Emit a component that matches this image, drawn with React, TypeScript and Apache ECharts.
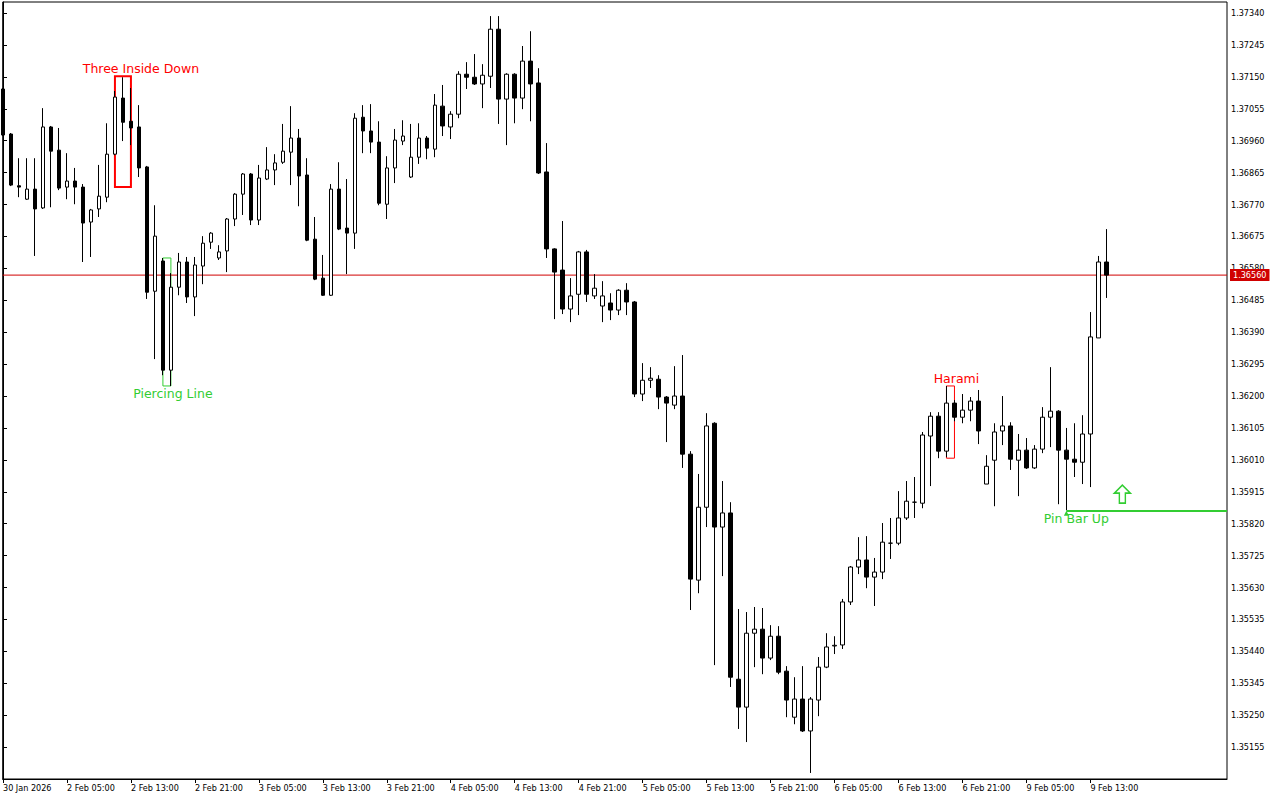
import React, { useEffect, useRef } from "react";
import * as echarts from "echarts";

// ---- Time axis (hourly bars, one tick every 8 bars) ----
const timeLabels = [
  "30 Jan 2026", "2 Feb 05:00", "2 Feb 13:00", "2 Feb 21:00", "3 Feb 05:00", "3 Feb 13:00",
  "3 Feb 21:00", "4 Feb 05:00", "4 Feb 13:00", "4 Feb 21:00", "5 Feb 05:00", "5 Feb 13:00",
  "5 Feb 21:00", "6 Feb 05:00", "6 Feb 13:00", "6 Feb 21:00", "9 Feb 05:00", "9 Feb 13:00",
];
const timeLabelIndex = [0, 8, 16, 24, 32, 40, 48, 56, 64, 72, 80, 88, 96, 104, 112, 120, 128, 136];

// ---- Price axis ticks ----
const priceTicks = [
  1.35155, 1.3525, 1.35345, 1.3544, 1.35535, 1.3563, 1.35725, 1.3582, 1.35915, 1.3601,
  1.36105, 1.362, 1.36295, 1.3639, 1.36485, 1.3658, 1.36675, 1.3677, 1.36865, 1.3696,
  1.37055, 1.3715, 1.37245, 1.3734,
];

// ---- OHLC (bar 0 = 30 Jan 21:00 ... bar 138 = 9 Feb 15:00) ----
const opens = [
  1.37114, 1.3698, 1.36826, 1.36786, 1.36816, 1.3676, 1.37001, 1.36932, 1.36822, 1.3684,
  1.36822, 1.36718, 1.36757, 1.36792, 1.3692, 1.37087, 1.37018, 1.37001, 1.36882, 1.36512,
  1.36602, 1.36277, 1.36524, 1.36599, 1.36495, 1.36587, 1.36658, 1.36611, 1.36632, 1.36727,
  1.36801, 1.36861, 1.36724, 1.36846, 1.36873, 1.36896, 1.36926, 1.36968, 1.36858, 1.36667,
  1.36551, 1.365, 1.36816, 1.367, 1.36685, 1.3703, 1.36989, 1.36956, 1.36771, 1.36879,
  1.36959, 1.36852, 1.36911, 1.36968, 1.36935, 1.37063, 1.37001, 1.37039, 1.37158, 1.37149,
  1.37129, 1.37152, 1.37292, 1.37084, 1.37158, 1.37087, 1.37197, 1.37132, 1.36867, 1.36638,
  1.36575, 1.36459, 1.36503, 1.36629, 1.36498, 1.36468, 1.36477, 1.36456, 1.36515, 1.3648,
  1.36206, 1.36247, 1.3625, 1.36197, 1.36173, 1.362, 1.36027, 1.35652, 1.35869, 1.36119,
  1.3581, 1.35852, 1.35357, 1.35274, 1.35494, 1.35506, 1.3542, 1.35485, 1.35381, 1.35244,
  1.35298, 1.35203, 1.35295, 1.35393, 1.35456, 1.35459, 1.35587, 1.35691, 1.35712, 1.35661,
  1.35676, 1.35762, 1.35762, 1.35837, 1.35884, 1.35881, 1.36081, 1.3614, 1.36036, 1.36179,
  1.36137, 1.36158, 1.36185, 1.35938, 1.36009, 1.36096, 1.36111, 1.36009, 1.36039, 1.35986,
  1.36042, 1.36137, 1.36155, 1.36039, 1.36012, 1.36003, 1.36087, 1.36373, 1.36599,
];
const closes = [
  1.36977, 1.36828, 1.36822, 1.36816, 1.36757, 1.37001, 1.36929, 1.36819, 1.3684, 1.36822,
  1.36715, 1.36754, 1.36795, 1.3692, 1.3709, 1.37015, 1.36998, 1.36879, 1.36509, 1.36676,
  1.36277, 1.36524, 1.36599, 1.36495, 1.3659, 1.36655, 1.36685, 1.36629, 1.36727, 1.36801,
  1.36861, 1.36724, 1.36849, 1.36873, 1.36894, 1.36929, 1.36968, 1.36855, 1.36664, 1.36548,
  1.365, 1.36816, 1.36697, 1.36685, 1.37027, 1.36989, 1.36956, 1.36774, 1.36879, 1.36962,
  1.36974, 1.36911, 1.36968, 1.36938, 1.37066, 1.37004, 1.37039, 1.37158, 1.37149, 1.37129,
  1.37155, 1.37292, 1.37084, 1.37158, 1.37087, 1.37197, 1.37129, 1.36864, 1.36638, 1.36569,
  1.36459, 1.36498, 1.36629, 1.36503, 1.36521, 1.36498, 1.36456, 1.36515, 1.3648, 1.36206,
  1.36247, 1.36253, 1.36197, 1.36179, 1.362, 1.36027, 1.35655, 1.35869, 1.36111, 1.3581,
  1.35852, 1.35363, 1.35274, 1.35494, 1.35506, 1.3542, 1.35485, 1.35378, 1.35295, 1.35298,
  1.35203, 1.35298, 1.35393, 1.35453, 1.35458, 1.35587, 1.35691, 1.35712, 1.35661, 1.35676,
  1.35765, 1.35762, 1.35837, 1.35887, 1.35884, 1.36084, 1.3614, 1.36036, 1.36179, 1.36137,
  1.36158, 1.36185, 1.36096, 1.35991, 1.36093, 1.36111, 1.36012, 1.36039, 1.35986, 1.36042,
  1.36137, 1.36155, 1.36039, 1.36012, 1.36003, 1.36087, 1.36376, 1.36599, 1.3656,
];
const lows = [
  1.36974, 1.36825, 1.36792, 1.36784, 1.36617, 1.36757, 1.36762, 1.36813, 1.36786, 1.36771,
  1.36599, 1.36614, 1.36733, 1.36777, 1.36917, 1.36959, 1.36947, 1.36852, 1.36489, 1.3631,
  1.36262, 1.3623, 1.365, 1.36477, 1.36438, 1.36533, 1.36638, 1.36605, 1.36569, 1.36706,
  1.36739, 1.36709, 1.36709, 1.36843, 1.36828, 1.36891, 1.36828, 1.36765, 1.36661, 1.36545,
  1.36498, 1.36498, 1.36694, 1.36563, 1.36638, 1.36923, 1.36923, 1.36768, 1.36727, 1.36834,
  1.36947, 1.36849, 1.36891, 1.36905, 1.36911, 1.36974, 1.36965, 1.37027, 1.37114, 1.37126,
  1.37057, 1.37117, 1.3701, 1.36947, 1.37012, 1.37054, 1.37018, 1.36861, 1.36611, 1.36429,
  1.36444, 1.3642, 1.36441, 1.3648, 1.36489, 1.3642, 1.36426, 1.36441, 1.36441, 1.36197,
  1.36185, 1.36224, 1.36161, 1.36063, 1.36161, 1.35986, 1.35563, 1.35613, 1.3581, 1.35399,
  1.35664, 1.35334, 1.35209, 1.3517, 1.35393, 1.35372, 1.35414, 1.35372, 1.35244, 1.35223,
  1.352, 1.35078, 1.35247, 1.3539, 1.35432, 1.35447, 1.35578, 1.3567, 1.35628, 1.35575,
  1.35655, 1.35715, 1.35756, 1.35831, 1.35837, 1.35866, 1.35932, 1.36015, 1.36018, 1.36125,
  1.36119, 1.36125, 1.36057, 1.35938, 1.35872, 1.36054, 1.3598, 1.35902, 1.35983, 1.35983,
  1.3603, 1.36048, 1.35878, 1.3586, 1.35959, 1.35938, 1.35929, 1.36373, 1.36492,
];
const highs = [
  1.37117, 1.36983, 1.36908, 1.36908, 1.36908, 1.37057, 1.37004, 1.36998, 1.36923, 1.36879,
  1.36831, 1.36757, 1.36888, 1.37012, 1.37108, 1.37149, 1.37117, 1.37066, 1.36885, 1.36768,
  1.36611, 1.36566, 1.36626, 1.36614, 1.36614, 1.36676, 1.36688, 1.36649, 1.3673, 1.36804,
  1.36864, 1.36864, 1.36888, 1.36941, 1.3692, 1.3701, 1.37063, 1.36995, 1.36908, 1.36733,
  1.3662, 1.36831, 1.36896, 1.36846, 1.37042, 1.37066, 1.37069, 1.37018, 1.36914, 1.36995,
  1.37021, 1.3701, 1.37012, 1.36974, 1.37099, 1.37126, 1.37048, 1.37167, 1.37194, 1.37218,
  1.37188, 1.37331, 1.37331, 1.37161, 1.37161, 1.37242, 1.37286, 1.37176, 1.36953, 1.3664,
  1.36721, 1.36551, 1.36632, 1.36635, 1.36563, 1.36542, 1.36506, 1.36518, 1.36536, 1.36483,
  1.36298, 1.36286, 1.36262, 1.362, 1.36289, 1.36322, 1.36036, 1.35968, 1.36149, 1.36122,
  1.35947, 1.35884, 1.35566, 1.35557, 1.35572, 1.35569, 1.35518, 1.35515, 1.35396, 1.35363,
  1.35396, 1.35304, 1.35423, 1.35494, 1.35485, 1.35596, 1.35694, 1.3578, 1.35783, 1.35718,
  1.35822, 1.35837, 1.35917, 1.35947, 1.35959, 1.36093, 1.36152, 1.36152, 1.3623, 1.36188,
  1.36206, 1.36197, 1.36218, 1.36024, 1.36119, 1.362, 1.36122, 1.36087, 1.36075, 1.36054,
  1.36167, 1.36286, 1.36158, 1.36105, 1.36119, 1.36143, 1.3645, 1.36617, 1.36697,
];

const currentPrice = 1.3656;

// ---- Candle pattern annotations ----
const patternNames = ["Three Inside Down", "Piercing Line", "Harami"];
const patternFrom = [14, 20, 118];
const patternTo = [16, 21, 119];
const patternTop = [1.37152, 1.36611, 1.3623];
const patternBottom = [1.36822, 1.3623, 1.36015];

const pinBarName = "Pin Bar Up";
const pinBarIndex = 133;
const pinBarLevel = 1.3586;
const signalArrowIndex = 140;
const signalArrowPrice = 1.35908;

// ---- axis extents ----
const xMin = -0.0375;
const xMax = 153.0875;
const yMin = 1.3506;
const yMax = 1.37373;

const RED = "#ff0000";
const GREEN = "#32cd32";
const PRICE_RED = "#d00000";
const AXIS_FONT = '"DejaVu Sans Condensed", "DejaVu Sans", sans-serif';
const TEXT_FONT = '"DejaVu Sans", Verdana, sans-serif';
const TEXT_SIZE = 12.5;

const patternStyles = [
  { color: RED, width: 2, pos: "top", dist: 0, offset: [18, 0] },
  { color: GREEN, width: 1, pos: "bottom", dist: 1, offset: [6, 0] },
  { color: RED, width: 1, pos: "top", dist: 0, offset: [6, 0] },
];

export default function App() {
  const ref = useRef<HTMLDivElement>(null);

  useEffect(() => {
    document.body.style.margin = "0";
    if (!ref.current) return;
    const chart = echarts.init(ref.current, undefined, { renderer: "svg" });

    const candles = opens.map((o, i) => [i, o, closes[i], lows[i], highs[i]]);

    const markAreas = patternNames.map((name, i) => [
      {
        name,
        coord: [patternFrom[i], patternTop[i]],
        itemStyle: {
          color: "rgba(0,0,0,0)",
          borderColor: patternStyles[i].color,
          borderWidth: patternStyles[i].width,
        },
        label: {
          show: true,
          position: patternStyles[i].pos,
          distance: patternStyles[i].dist,
          offset: patternStyles[i].offset,
          color: patternStyles[i].color,
          fontSize: TEXT_SIZE,
          fontFamily: TEXT_FONT,
        },
      },
      { coord: [patternTo[i], patternBottom[i]] },
    ]);

    chart.setOption({
      animation: false,
      backgroundColor: "#ffffff",
      grid: {
        left: 2,
        top: 2,
        right: 53,
        bottom: 21,
        show: true,
        borderColor: "#000",
        borderWidth: 1,
        backgroundColor: "#fff",
      },
      xAxis: {
        type: "value",
        min: xMin,
        max: xMax,
        axisLine: { show: true, lineStyle: { color: "#000", width: 1 } },
        axisTick: {
          show: true,
          customValues: timeLabelIndex,
          length: 4,
          lineStyle: { color: "#000" },
        },
        axisLabel: {
          customValues: timeLabelIndex,
          formatter: (v: number) => {
            const j = timeLabelIndex.indexOf(Math.round(v));
            return j >= 0 ? timeLabels[j] : "";
          },
          align: "left",
          margin: 4,
          color: "#000",
          fontSize: 9,
          fontFamily: AXIS_FONT,
        },
        splitLine: { show: false },
      },
      yAxis: {
        type: "value",
        position: "right",
        min: yMin,
        max: yMax,
        axisLine: { show: true, lineStyle: { color: "#000", width: 1 } },
        axisTick: {
          show: true,
          customValues: priceTicks,
          length: 4,
          lineStyle: { color: "#000" },
        },
        axisLabel: {
          customValues: priceTicks,
          formatter: (v: number) => v.toFixed(5),
          margin: 4,
          color: "#000",
          fontSize: 9,
          fontFamily: AXIS_FONT,
        },
        splitLine: { show: false },
      },
      series: [
        {
          // current bid line
          type: "line",
          data: [
            [xMin, currentPrice],
            [xMax, currentPrice],
          ],
          symbol: "none",
          silent: true,
          z: 1,
          color: PRICE_RED,
          lineStyle: { color: PRICE_RED, width: 1, type: "solid" },
          endLabel: {
            show: true,
            formatter: () => currentPrice.toFixed(5),
            distance: 3,
            color: "#ffffff",
            backgroundColor: PRICE_RED,
            padding: [2, 3, 1, 3],
            fontSize: 9,
            fontFamily: AXIS_FONT,
          },
        },
        {
          type: "candlestick",
          data: candles,
          barWidth: 4,
          silent: true,
          z: 3,
          itemStyle: {
            color: "#ffffff",
            color0: "#000000",
            borderColor: "#000000",
            borderColor0: "#000000",
            borderColorDoji: "#000000",
            borderWidth: 1,
          },
          markArea: { silent: true, data: markAreas },
          markLine: {
            silent: true,
            symbol: ["none", "none"],
            lineStyle: { color: GREEN, width: 2, type: "solid" },
            data: [
              [
                {
                  coord: [pinBarIndex, pinBarLevel],
                  lineStyle: { color: GREEN, width: 2, type: "solid" },
                  label: { show: false },
                },
                { coord: [xMax, pinBarLevel] },
              ],
            ],
          },
          markPoint: {
            silent: true,
            data: [
              {
                name: pinBarName,
                coord: [pinBarIndex, pinBarLevel],
                symbol: "triangle",
                symbolSize: 5,
                symbolOffset: [0, 3],
                itemStyle: { color: GREEN },
                label: {
                  show: true,
                  formatter: pinBarName,
                  position: "inside",
                  offset: [10, 5],
                  color: GREEN,
                  fontSize: TEXT_SIZE,
                  fontFamily: TEXT_FONT,
                },
              },
              {
                coord: [signalArrowIndex, signalArrowPrice],
                symbol: "path://M8,0 L16,8 L11,8 L11,18 L5,18 L5,8 L0,8 Z",
                symbolSize: [16, 18],
                itemStyle: { color: "#ffffff", borderColor: GREEN, borderWidth: 1.5 },
                label: { show: false },
              },
            ],
          },
        },
      ],
    });

    return () => {
      chart.dispose();
    };
  }, []);

  return <div ref={ref} style={{ width: 1280, height: 800 }} />;
}
